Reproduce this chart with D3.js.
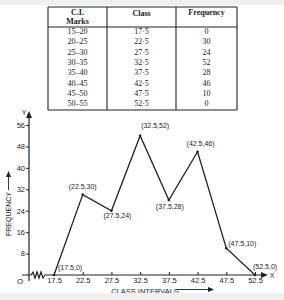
<!DOCTYPE html>
<html>
<head>
<meta charset="utf-8">
<script src="https://cdn.jsdelivr.net/npm/d3@7"></script>
<style>
  body { margin: 0; background: #fff; }
  svg { display: block; }
</style>
</head>
<body>
<svg id="chart" width="284" height="300"></svg>
<script>
const classIntervals = ["15–20", "20–25", "25–30", "30–35", "35–40", "40–45", "45–50", "50–55"];
const classMarks = [17.5, 22.5, 27.5, 32.5, 37.5, 42.5, 47.5, 52.5];
const frequencies = [0, 30, 24, 52, 28, 46, 10, 0];
const yTicks = [0, 8, 16, 24, 32, 40, 48, 56];

const ink = "#222";
const svg = d3.select("#chart");

// ---- table ----
const cols = [48, 107, 176, 237];
const tTop = 7, tHead = 27, rowH = 10.3, rowStart = 31;
const tBottom = 110;
const table = svg.append("g").attr("stroke", ink).attr("stroke-width", 1.1);
table.append("line").attr("x1", cols[0]).attr("x2", cols[3]).attr("y1", tTop).attr("y2", tTop);
table.append("line").attr("x1", cols[0]).attr("x2", cols[3]).attr("y1", tHead).attr("y2", tHead);
table.append("line").attr("x1", cols[0]).attr("x2", cols[3]).attr("y1", tBottom).attr("y2", tBottom);
cols.forEach(c => table.append("line").attr("x1", c).attr("x2", c).attr("y1", tTop).attr("y2", tBottom));

const colMid = i => (cols[i] + cols[i + 1]) / 2;
const tText = svg.append("g")
  .attr("font-family", "Liberation Serif, serif")
  .attr("font-size", 8)
  .attr("fill", ink)
  .attr("text-anchor", "middle");
tText.append("text").attr("x", colMid(0)).attr("y", 15).attr("font-weight", "bold").text("C.I.");
tText.append("text").attr("x", colMid(0)).attr("y", 24).attr("font-weight", "bold").text("Marks");
tText.append("text").attr("x", colMid(1)).attr("y", 16).attr("font-weight", "bold").text("Class");
tText.append("text").attr("x", colMid(2)).attr("y", 15).attr("font-weight", "bold").text("Frequency");
classIntervals.forEach((ci, i) => {
  const y = rowStart + i * rowH + 3;
  tText.append("text").attr("x", colMid(0)).attr("y", y).text(ci);
  tText.append("text").attr("x", colMid(1)).attr("y", y).text(String(classMarks[i]).replace(".", "·"));
  tText.append("text").attr("x", colMid(2)).attr("y", y).text(frequencies[i]);
});

// ---- frequency polygon ----
const x = d3.scaleLinear().domain([17.5, 52.5]).range([54, 255]);
const y = d3.scaleLinear().domain([0, 56]).range([275, 125]);
const x0 = 29;

const font = "Liberation Sans, Arial, sans-serif";

// x axis line with break
const xAxisPath = d3.path();
xAxisPath.moveTo(x0 - 7, y(0));
xAxisPath.lineTo(31, y(0));
[33, 35, 37, 39, 41, 43].forEach((px, i) => xAxisPath.lineTo(px, y(0) + (i % 2 ? 3 : -3)));
xAxisPath.lineTo(45, y(0));
xAxisPath.lineTo(262, y(0));
svg.append("path").attr("d", xAxisPath.toString()).attr("fill", "none").attr("stroke", ink).attr("stroke-width", 1.2);
svg.append("path").attr("d", "M268,275 L261,272 L261,278 Z").attr("fill", ink);

// y axis line
svg.append("line").attr("x1", x0).attr("x2", x0).attr("y1", 281).attr("y2", 116)
  .attr("stroke", ink).attr("stroke-width", 1.2);
svg.append("path").attr("d", `M${x0},111 L${x0 - 3},118 L${x0 + 3},118 Z`).attr("fill", ink);

const xAxis = svg.append("g")
  .attr("transform", `translate(0,${y(0)})`)
  .call(d3.axisBottom(x).tickValues(classMarks).tickFormat(d3.format(".1f")).tickSize(3).tickPadding(0))
  .call(g => g.select(".domain").remove());
xAxis.selectAll(".tick line").attr("y1", -3).attr("y2", 0).attr("stroke", ink);
xAxis.selectAll("text").attr("font-family", font).attr("font-size", 7.5).attr("fill", ink).attr("dy", "0.71em");

const yAxis = svg.append("g")
  .attr("transform", `translate(${x0},0)`)
  .call(d3.axisLeft(y).tickValues(yTicks.slice(1)).tickSize(3).tickPadding(1))
  .call(g => g.select(".domain").remove());
yAxis.selectAll(".tick line").attr("stroke", ink);
yAxis.selectAll("text").attr("font-family", font).attr("font-size", 7.5).attr("fill", ink);

const labels = svg.append("g").attr("font-family", font).attr("fill", ink);
labels.append("text").attr("x", 20).attr("y", 284).attr("font-size", 8).attr("text-anchor", "middle").text("O");
labels.append("text").attr("x", 24).attr("y", 115).attr("font-size", 7).attr("text-anchor", "middle").text("Y");
labels.append("text").attr("x", 272).attr("y", 278).attr("font-size", 7).attr("text-anchor", "middle").text("X");
labels.append("text").attr("x", 145).attr("y", 294).attr("font-size", 7.5).attr("text-anchor", "middle")
  .text("CLASS INTERVALS");
svg.append("line").attr("x1", 176).attr("x2", 208).attr("y1", 289.5).attr("y2", 289.5).attr("stroke", ink).attr("stroke-width", 0.9);
svg.append("path").attr("d", "M214,289.5 L208,287 L208,292 Z").attr("fill", ink);
labels.append("text").attr("transform", "translate(11,214) rotate(-90)").attr("font-size", 7)
  .attr("text-anchor", "middle").text("FREQUENCY");
svg.append("line").attr("x1", 8.5).attr("x2", 8.5).attr("y1", 190).attr("y2", 176).attr("stroke", ink).attr("stroke-width", 0.9);
svg.append("path").attr("d", "M8.5,171 L6,177 L11,177 Z").attr("fill", ink);

const pts = classMarks.map((m, i) => ({ m, f: frequencies[i] }));
svg.append("path")
  .datum(pts)
  .attr("fill", "none")
  .attr("stroke", ink)
  .attr("stroke-width", 1.3)
  .attr("stroke-linejoin", "miter")
  .attr("d", d3.line().x(d => x(d.m)).y(d => y(d.f)));

svg.append("g").selectAll("circle").data(pts).join("circle")
  .attr("cx", d => x(d.m)).attr("cy", d => y(d.f)).attr("r", 1.3).attr("fill", ink);

// point label offsets (dx, dy from point, anchor)
const offs = [[4, -5, "start"], [0, -6, "middle"], [6, 7, "middle"], [1, -8, "start"],
  [1, 9, "middle"], [3, -6, "middle"], [2, -2, "start"], [-2, -6, "start"]];
svg.append("g").attr("font-family", font).attr("font-size", 7).attr("fill", ink)
  .selectAll("text").data(pts).join("text")
  .attr("x", (d, i) => x(d.m) + offs[i][0])
  .attr("y", (d, i) => y(d.f) + offs[i][1])
  .attr("text-anchor", (d, i) => offs[i][2])
  .text(d => `(${d.m},${d.f})`);

// scanned page bands (drawn last; the bottom one clips the axis title as in the scan)
svg.append("rect").attr("x", 0).attr("y", 0).attr("width", 284).attr("height", 5).attr("fill", "#eef0f2");
svg.append("rect").attr("x", 0).attr("y", 293).attr("width", 284).attr("height", 7).attr("fill", "#eef0f2");
</script>
</body>
</html>
